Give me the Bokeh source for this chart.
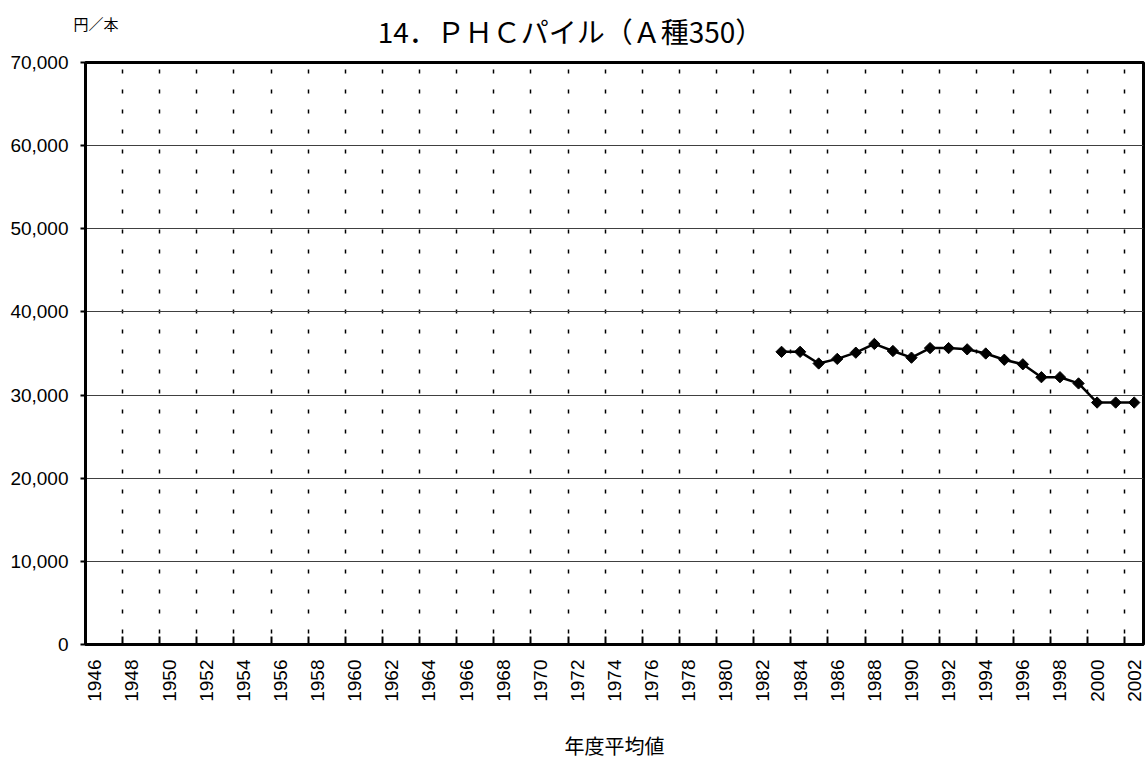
import math
from bokeh.plotting import figure
from bokeh.models import FixedTicker, NumeralTickFormatter, Range1d, Label
from bokeh.embed import file_html
from bokeh.resources import INLINE

# ---- data ----
label_years = list(range(1946, 2003, 2))
boundaries = [y + 0.5 for y in range(1947, 2002, 2)]
years = list(range(1983, 2003))
prices = [35200, 35200, 33800, 34350, 35100, 36150, 35300, 34500, 35650, 35650,
          35500, 35000, 34250, 33700, 32150, 32150, 31400, 29100, 29100, 29100]
y_ticks = list(range(0, 70001, 10000))
title_text = "14．ＰＨＣパイル（Ａ種350）"
unit_text = "円／本"
xlabel_text = "年度平均値"

p = figure(width=1147, height=762, output_backend="svg", toolbar_location=None,
           x_range=Range1d(1945.5, 2002.5), y_range=Range1d(0, 70000),
           min_border_left=85, min_border_right=4, min_border_top=62,
           min_border_bottom=115, title=None)

p.background_fill_color = "white"
p.border_fill_color = "white"
p.outline_line_color = "black"
p.outline_line_width = 3

# x axis
xa = p.xaxis[0]
xa.ticker = FixedTicker(ticks=label_years, minor_ticks=boundaries)
xa.major_tick_line_color = None
xa.major_tick_in = 0
xa.major_tick_out = 0
xa.minor_tick_in = 8
xa.minor_tick_out = 0
xa.minor_tick_line_width = 2
xa.minor_tick_line_color = "black"
xa.axis_line_width = 3
xa.axis_line_color = "black"
xa.major_label_orientation = math.pi / 2
xa.major_label_text_font = "Liberation Sans"
xa.major_label_text_font_size = "19px"
xa.major_label_text_color = "black"
xa.major_label_standoff = 15
xa.axis_label = xlabel_text
xa.axis_label_text_font = "Noto Sans CJK JP"
xa.axis_label_text_font_size = "20px"
xa.axis_label_text_font_style = "normal"
xa.axis_label_text_color = "black"
xa.axis_label_standoff = 26

# y axis
ya = p.yaxis[0]
ya.ticker = FixedTicker(ticks=y_ticks)
ya.formatter = NumeralTickFormatter(format="0,0")
ya.major_tick_out = 5
ya.major_tick_in = 0
ya.major_tick_line_width = 2
ya.minor_tick_line_color = None
ya.axis_line_width = 3
ya.axis_line_color = "black"
ya.major_label_text_font = "Liberation Sans"
ya.major_label_text_font_size = "19px"
ya.major_label_text_color = "black"
ya.major_label_standoff = 12

# grids
p.ygrid[0].ticker = FixedTicker(ticks=y_ticks)
p.ygrid[0].grid_line_color = "#404040"
p.ygrid[0].grid_line_width = 1
p.xgrid[0].ticker = FixedTicker(ticks=boundaries)
p.xgrid[0].grid_line_color = "black"
p.xgrid[0].grid_line_width = 1.5
p.xgrid[0].grid_line_dash = "4 16"
p.xgrid[0].grid_line_dash_offset = 9

# series
p.line(years, prices, line_width=2.5, line_color="black")
p.scatter(years, prices, marker="square", angle=math.pi / 4, size=8,
          fill_color="black", line_color="black")

# texts (placed in the top side panel so that they are not clipped to the frame)
p.add_layout(Label(x=1971.63, y=73830, x_units="data", y_units="data", text=title_text,
                   text_font="Noto Sans CJK JP", text_font_size="28px",
                   text_align="center", text_baseline="alphabetic",
                   text_color="black"), "above")
p.add_layout(Label(x=1944.85, y=74700, x_units="data", y_units="data", text=unit_text,
                   text_font="Noto Sans CJK JP", text_font_size="15px",
                   text_align="left", text_baseline="middle",
                   text_color="black"), "above")

open("out.html", "w").write(file_html(p, INLINE))
